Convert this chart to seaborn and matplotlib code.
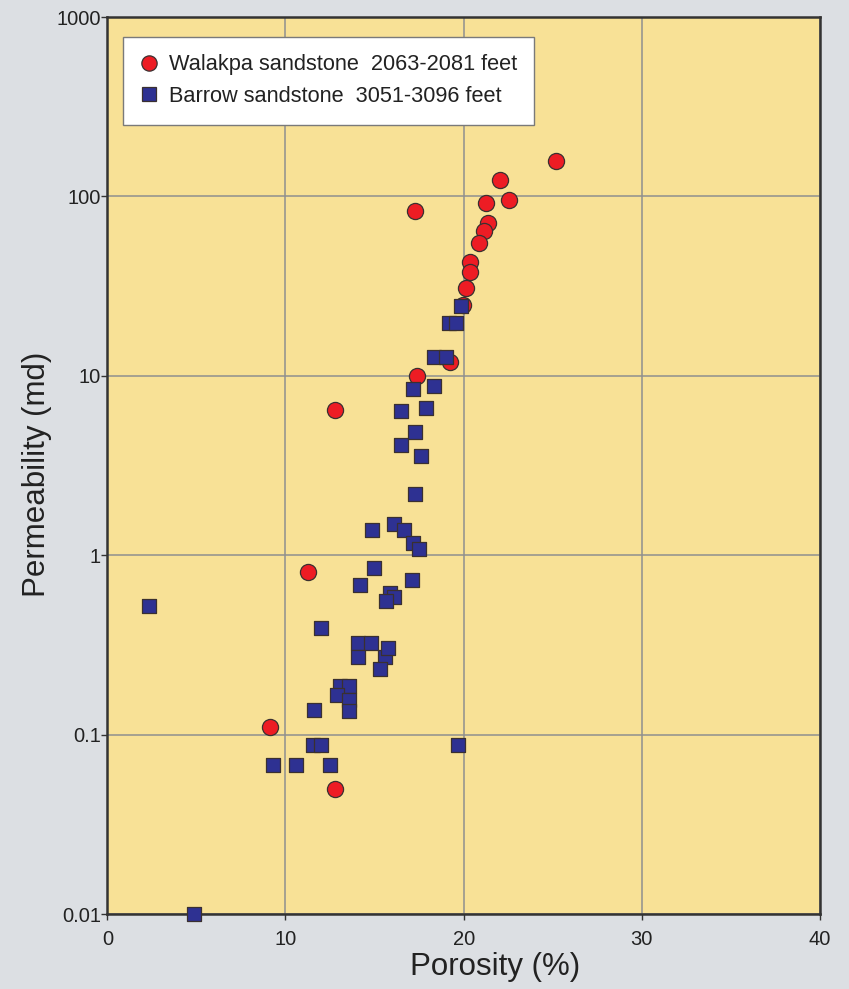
import numpy as np
import pandas as pd
import matplotlib
matplotlib.use("Agg")
import matplotlib.pyplot as plt
from matplotlib.ticker import FixedLocator, FuncFormatter, NullLocator
from matplotlib.lines import Line2D
import seaborn as sns

# Core-plug measurements: porosity (%) and permeability (millidarcies)
walakpa_label = "Walakpa sandstone  2063-2081 feet"
walakpa_porosity = [25.16, 22.05, 22.54, 21.25, 17.25, 21.36, 21.16, 20.84, 20.35,
                    20.35, 20.15, 19.96, 19.23, 17.36, 12.78, 11.26, 9.15, 12.76]
walakpa_perm = [157, 123, 95, 92, 83, 71, 64, 55, 43,
                38, 31, 25, 12, 10, 6.5, 0.81, 0.111, 0.050]

barrow_label = "Barrow sandstone  3051-3096 feet"
barrow_porosity = [19.85, 19.17, 19.57, 18.35, 19.02, 17.15, 18.35, 16.46, 17.87,
                   17.26, 16.48, 17.58, 17.26, 14.87, 16.07, 16.68, 17.16, 17.47,
                   14.97, 17.08, 14.18, 15.86, 16.07, 15.66, 11.98, 14.05, 14.78,
                   14.05, 15.57, 15.75, 15.28, 13.06, 13.58, 12.92, 13.58, 13.58,
                   11.58, 11.57, 11.99, 19.68, 9.30, 10.59, 12.49, 2.34, 4.87]
barrow_perm = [24.5, 19.6, 19.6, 12.8, 12.8, 8.5, 8.8, 6.4, 6.6,
               4.85, 4.1, 3.6, 2.2, 1.39, 1.50, 1.39, 1.17, 1.09,
               0.85, 0.73, 0.68, 0.62, 0.59, 0.556, 0.392, 0.325, 0.325,
               0.273, 0.273, 0.303, 0.234, 0.188, 0.187, 0.167, 0.157, 0.136,
               0.137, 0.088, 0.088, 0.088, 0.068, 0.068, 0.068, 0.525, 0.010]

x_ticks = [0, 10, 20, 30, 40]
y_ticks = [0.01, 0.1, 1, 10, 100, 1000]
x_label = "Porosity (%)"
y_label = "Permeability (md)"

RED = "#ED1C24"
BLUE = "#2E3192"
EDGE = "#3a3030"
PAGE = "#DCDFE3"
PANEL = "#F8E196"

sns.set_style("white")
plt.rcParams["font.family"] = ["Liberation Sans", "DejaVu Sans"]

walakpa = pd.DataFrame({"porosity": walakpa_porosity, "perm": walakpa_perm})
barrow = pd.DataFrame({"porosity": barrow_porosity, "perm": barrow_perm})

fig = plt.figure(figsize=(8.49, 9.89), dpi=100, facecolor=PAGE)
ax = fig.add_axes([0.1264, 0.0755, 0.8394, 0.9073])
ax.set_facecolor(PANEL)

sns.scatterplot(data=walakpa, x="porosity", y="perm", ax=ax, marker="o", s=135,
                color=RED, edgecolor=EDGE, linewidth=0.9, zorder=3, legend=False)
sns.scatterplot(data=barrow, x="porosity", y="perm", ax=ax, marker="s", s=105,
                color=BLUE, edgecolor=EDGE, linewidth=0.9, zorder=4, legend=False)
for coll in ax.collections:
    coll.set_clip_on(False)

ax.set_yscale("log")
ax.set_xlim(0, 40)
ax.set_ylim(0.01, 1000)
ax.xaxis.set_major_locator(FixedLocator(x_ticks))
ax.yaxis.set_major_locator(FixedLocator(y_ticks))
ax.yaxis.set_minor_locator(NullLocator())
ax.xaxis.set_minor_locator(NullLocator())
ax.yaxis.set_major_formatter(FuncFormatter(lambda v, _: f"{v:g}"))

ax.grid(True, which="major", color="#8f8f8f", linewidth=1.1, zorder=1)
ax.set_axisbelow(True)

for side in ["left", "right", "top", "bottom"]:
    ax.spines[side].set_visible(True)
    ax.spines[side].set_color("#333333")
    ax.spines[side].set_linewidth(1.8)

ax.tick_params(axis="both", which="major", direction="out", length=4, width=1.0,
               color="#333333", labelsize=14.5, labelcolor="#222222",
               left=True, bottom=True)
ax.tick_params(axis="y", pad=0.5)
ax.tick_params(axis="x", pad=7)

ax.set_xlabel(x_label, fontsize=22.5, color="#222222")
ax.set_ylabel(y_label, fontsize=22.5, color="#222222")
ax.xaxis.set_label_coords(0.544, -0.042)
ax.yaxis.set_label_coords(-0.078, 0.49)

handles = [
    Line2D([], [], linestyle="none", marker="o", markersize=11, markerfacecolor=RED,
           markeredgecolor=EDGE, markeredgewidth=0.9, label=walakpa_label),
    Line2D([], [], linestyle="none", marker="s", markersize=9.5, markerfacecolor=BLUE,
           markeredgecolor=EDGE, markeredgewidth=0.9, label=barrow_label),
]
leg = ax.legend(handles=handles, loc="upper left", bbox_to_anchor=(0.022, 0.978),
                borderaxespad=0, fontsize=15.7, frameon=True, fancybox=False,
                borderpad=0.8, handlelength=0.75, handletextpad=0.55,
                labelspacing=0.5)
leg.get_frame().set_facecolor("white")
leg.get_frame().set_edgecolor("#7a7a7a")
leg.get_frame().set_linewidth(1.0)
leg.get_frame().set_alpha(1.0)
leg.set_zorder(10)
for t in leg.get_texts():
    t.set_color("#222222")

fig.savefig("out.png", dpi=100, facecolor=PAGE)
